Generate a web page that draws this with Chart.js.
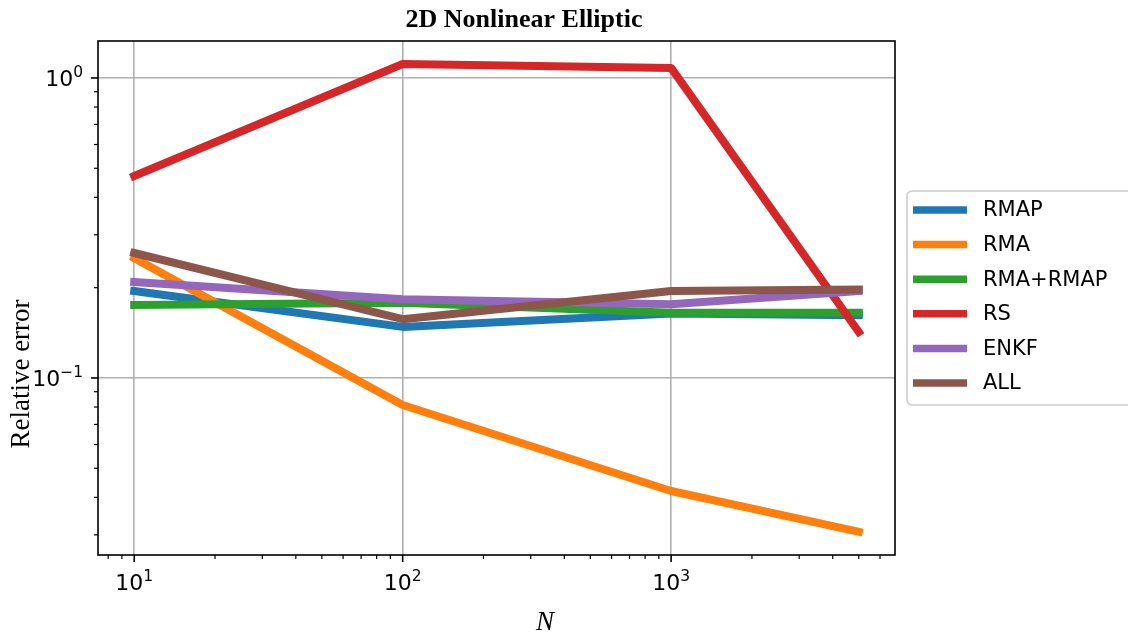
<!DOCTYPE html>
<html lang="en">
<head>
  <meta charset="UTF-8" />
  <title>2D Nonlinear Elliptic</title>
  <script src="https://cdn.jsdelivr.net/npm/chart.js"></script>
  <style>
    body { margin: 0; background: #fff; }
    canvas { display: block; }
  </style>
</head>
<body>
  <canvas id="errChart" width="1128" height="635"></canvas>

  <script>
    // sample sizes N
    const nValues = [10, 100, 1000, 5000];

    const labels = ['RMAP', 'RMA', 'RMA+RMAP', 'RS', 'ENKF', 'ALL'];
    const colors = ['#1f77b4', '#ff7f0e', '#2ca02c', '#d62728', '#9467bd', '#8c564b'];

    // relative error per method
    const rmap     = [0.195, 0.148, 0.164, 0.162];
    const rma      = [0.251, 0.0813, 0.042, 0.0307];
    const rmaRmap  = [0.175, 0.178, 0.165, 0.165];
    const rs       = [0.471, 1.113, 1.080, 0.1423];
    const enkf     = [0.209, 0.183, 0.176, 0.195];
    const all      = [0.261, 0.157, 0.195, 0.197];
    const series = [rmap, rma, rmaRmap, rs, enkf, all];

    // axis ticks
    const xMajor = [10, 100, 1000];
    const xMajorExp = ['1', '2', '3'];
    const yMajor = [0.1, 1];
    const yMajorExp = ['\u22121', '0'];
    const xMin = 7.33, xMax = 6823;
    const yMin = 0.0257, yMax = 1.328;

    function minorTicks(lo, hi) {
      const out = [];
      for (let d = Math.floor(Math.log10(lo)); d <= Math.ceil(Math.log10(hi)); d++) {
        for (let k = 2; k <= 9; k++) {
          const v = k * Math.pow(10, d);
          if (v >= lo && v <= hi) out.push(v);
        }
      }
      return out;
    }

    function drawPow(ctx, base, exp, x, baseline, align) {
      ctx.font = '22px "DejaVu Sans"';
      const wb = ctx.measureText(base).width;
      ctx.font = '15.5px "DejaVu Sans"';
      const we = ctx.measureText(exp).width;
      const w = wb + we;
      let left = x;
      if (align === 'center') left = x - w / 2;
      else if (align === 'right') left = x - w;
      ctx.fillStyle = '#000';
      ctx.textAlign = 'left';
      ctx.textBaseline = 'alphabetic';
      ctx.font = '22px "DejaVu Sans"';
      ctx.fillText(base, left, baseline);
      ctx.font = '15.5px "DejaVu Sans"';
      ctx.fillText(exp, left + wb, baseline - 9);
    }

    const mplAxes = {
      id: 'mplAxes',
      afterDraw(chart) {
        const ctx = chart.ctx;
        const a = chart.chartArea;
        const xs = chart.scales.x, ys = chart.scales.y;
        ctx.save();

        // spines
        ctx.strokeStyle = '#000';
        ctx.lineWidth = 1.6;
        ctx.strokeRect(a.left, a.top, a.right - a.left, a.bottom - a.top);

        // major ticks + labels
        ctx.lineWidth = 1.6;
        xMajor.forEach((v, i) => {
          const px = xs.getPixelForValue(v);
          ctx.beginPath(); ctx.moveTo(px, a.bottom); ctx.lineTo(px, a.bottom + 7); ctx.stroke();
          drawPow(ctx, '10', xMajorExp[i], px, a.bottom + 35, 'center');
        });
        yMajor.forEach((v, i) => {
          const py = ys.getPixelForValue(v);
          ctx.beginPath(); ctx.moveTo(a.left, py); ctx.lineTo(a.left - 7, py); ctx.stroke();
          drawPow(ctx, '10', yMajorExp[i], a.left - 15, py + 8, 'right');
        });

        // minor ticks
        ctx.lineWidth = 1.2;
        minorTicks(xMin, xMax).forEach(v => {
          const px = xs.getPixelForValue(v);
          ctx.beginPath(); ctx.moveTo(px, a.bottom); ctx.lineTo(px, a.bottom + 4); ctx.stroke();
        });
        minorTicks(yMin, yMax).forEach(v => {
          const py = ys.getPixelForValue(v);
          ctx.beginPath(); ctx.moveTo(a.left, py); ctx.lineTo(a.left - 4, py); ctx.stroke();
        });

        // title and axis labels
        ctx.fillStyle = '#000';
        ctx.textAlign = 'center';
        ctx.textBaseline = 'alphabetic';
        ctx.font = 'bold 26px "Liberation Serif"';
        ctx.fillText('2D Nonlinear Elliptic', 524, 27);
        ctx.font = 'italic 27px "Liberation Serif"';
        ctx.fillText('N', 545, 630);
        ctx.save();
        ctx.translate(29, 374);
        ctx.rotate(-Math.PI / 2);
        ctx.font = '27px "Liberation Serif"';
        ctx.fillText('Relative error', 0, 0);
        ctx.restore();

        // legend
        const lx = 907, ly = 191, lw = 240, lh = 214, r = 5;
        ctx.beginPath();
        ctx.moveTo(lx + r, ly);
        ctx.lineTo(lx + lw - r, ly);
        ctx.arcTo(lx + lw, ly, lx + lw, ly + r, r);
        ctx.lineTo(lx + lw, ly + lh - r);
        ctx.arcTo(lx + lw, ly + lh, lx + lw - r, ly + lh, r);
        ctx.lineTo(lx + r, ly + lh);
        ctx.arcTo(lx, ly + lh, lx, ly + lh - r, r);
        ctx.lineTo(lx, ly + r);
        ctx.arcTo(lx, ly, lx + r, ly, r);
        ctx.closePath();
        ctx.fillStyle = 'rgba(255,255,255,0.8)';
        ctx.fill();
        ctx.strokeStyle = '#cccccc';
        ctx.lineWidth = 1.6;
        ctx.stroke();

        ctx.font = '21px "DejaVu Sans"';
        ctx.textAlign = 'left';
        ctx.textBaseline = 'middle';
        labels.forEach((lab, i) => {
          const cy = 210 + i * 34.6;
          ctx.strokeStyle = colors[i];
          ctx.lineWidth = 7.5;
          ctx.lineCap = 'butt';
          ctx.beginPath(); ctx.moveTo(913, cy); ctx.lineTo(967, cy); ctx.stroke();
          ctx.fillStyle = '#000';
          ctx.fillText(lab, 983, cy + 1);
        });

        ctx.restore();
      }
    };

    const datasets = labels.map((lab, i) => ({
      label: lab,
      data: nValues.map((n, j) => ({ x: n, y: series[i][j] })),
      borderColor: colors[i],
      backgroundColor: colors[i],
      borderWidth: 8,
      borderCapStyle: 'square',
      borderJoinStyle: 'round',
      pointRadius: 0,
      tension: 0,
      fill: false,
      order: labels.length - i
    }));

    new Chart(document.getElementById('errChart'), {
      type: 'line',
      data: { datasets },
      options: {
        responsive: false,
        animation: false,
        devicePixelRatio: 1,
        layout: { padding: { left: 0, top: 41, right: 233, bottom: 0 } },
        plugins: {
          legend: { display: false },
          title: { display: false },
          tooltip: { enabled: false }
        },
        scales: {
          x: {
            type: 'logarithmic',
            min: xMin,
            max: xMax,
            afterBuildTicks: s => { s.ticks = xMajor.map(v => ({ value: v })); },
            afterFit: s => { s.height = 80; },
            ticks: { display: false },
            grid: { color: '#b0b0b0', lineWidth: 1.6, drawTicks: false },
            border: { display: false }
          },
          y: {
            type: 'logarithmic',
            min: yMin,
            max: yMax,
            afterBuildTicks: s => { s.ticks = yMajor.map(v => ({ value: v })); },
            afterFit: s => { s.width = 98; },
            ticks: { display: false },
            grid: { color: '#b0b0b0', lineWidth: 1.6, drawTicks: false },
            border: { display: false }
          }
        }
      },
      plugins: [mplAxes]
    });
  </script>
</body>
</html>
